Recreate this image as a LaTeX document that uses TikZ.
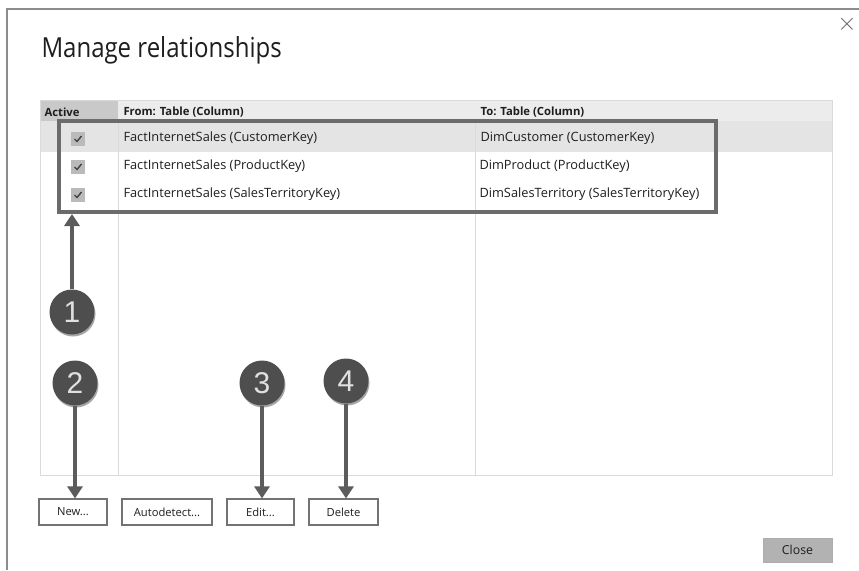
\documentclass[tikz,border=0pt]{standalone}
\usepackage{fontspec}
\setmainfont{Open Sans}
\newfontfamily\digitfont{Liberation Sans}
\usetikzlibrary{arrows.meta}
\usetikzlibrary{shadows}
\definecolor{frameline}{HTML}{8C8C8C}
\definecolor{gridline}{HTML}{DADADA}
\definecolor{headdark}{HTML}{C9C9C9}
\definecolor{headlight}{HTML}{ECECEC}
\definecolor{rowsel}{HTML}{E4E4E4}
\definecolor{callout}{HTML}{4E4E4E}
\definecolor{pointer}{HTML}{5C5C5C}
\definecolor{celltext}{HTML}{1E1E1E}
\tikzset{
every picture/.style={x=1pt, y=-1pt, line width=1pt},
%%%%%%%%%%  Node styles
celltext/.style={anchor=west, inner sep=0pt, text=celltext,
                 font=\fontsize{12.8}{14}\selectfont},
headtext/.style={anchor=west, inner sep=0pt, text=celltext,
                 font=\bfseries\fontsize{11.3}{13}\selectfont},
checkbox/.style={fill=black!27, minimum size=14pt, inner sep=0pt},
button/.style={draw=black!55, line width=1.2pt, fill=white, inner sep=0pt,
               minimum height=26pt, text=celltext,
               font=\fontsize{11.2}{13}\selectfont},
closebutton/.style={fill=black!30, draw=black!32, inner sep=0pt,
                    minimum width=69pt, minimum height=24pt, text=celltext,
                    font=\fontsize{12.3}{14}\selectfont},
numbered/.style={circle, fill=callout, minimum size=45pt, inner sep=0pt,
                 text=black!12, font=\digitfont\fontsize{30}{32}\selectfont,
                 drop shadow={shadow xshift=1pt, shadow yshift=-2pt,
                              opacity=0.35, fill=black}},
%%%% different line styles:
grid/.style={draw=gridline, line width=1pt},
selection/.style={draw=black!58, line width=4pt},
tick/.style={draw=black!75, line width=1.4pt},
pointer/.style={draw=pointer, line width=4pt,
                -{Triangle[length=12pt, width=15pt]}}
}

\begin{document}
\begin{tikzpicture}
\useasboundingbox (0,0) rectangle (859,570);
\fill[white] (0,0) rectangle (859,570);
% dialog frame
\draw[frameline, line width=1.5pt] (7,570) -- (7,9) -- (859,9);
\node[text=black!60, font=\fontsize{28}{28}\selectfont] (close x) at (847,24) {$\times$};
\node[anchor=base west, inner sep=0pt, text=celltext,
      font=\fontsize{24}{28}\selectfont] (title) at (41,57)
      {\scalebox{1}[1.15]{Manage relationships}};

%%%%%%% table
\fill[headdark] (40,100) rectangle (118,121);
\fill[headlight] (118,100) rectangle (832,121);
\fill[rowsel] (40,121) rectangle (832,152);
\draw[grid] (40,100) rectangle (832,475);
\draw[grid] (118,121) -- (118,475);
\draw[grid] (475,121) -- (475,475);
\node[headtext] (h active) at (44,112) {Active};
\node[headtext] (h from) at (123,112) {From: Table (Column)};
\node[headtext] (h to) at (480,112) {To: Table (Column)};

\node[checkbox] (cb1) at (78,139) {};
\node[checkbox] (cb2) at (78,167) {};
\node[checkbox] (cb3) at (78,195) {};
\draw[tick] (cb1.center) +(-3.5,0) -- +(-1,2.5) -- +(3.5,-3);
\draw[tick] (cb2.center) +(-3.5,0) -- +(-1,2.5) -- +(3.5,-3);
\draw[tick] (cb3.center) +(-3.5,0) -- +(-1,2.5) -- +(3.5,-3);

\node[celltext] (from1) at (123,138) {FactInternetSales (CustomerKey)};
\node[celltext] (from2) at (123,166) {FactInternetSales (ProductKey)};
\node[celltext] (from3) at (123,194) {FactInternetSales (SalesTerritoryKey)};
\node[celltext] (to1) at (480,138) {DimCustomer (CustomerKey)};
\node[celltext] (to2) at (479,166) {DimProduct (ProductKey)};
\node[celltext] (to3) at (479,194) {DimSalesTerritory (SalesTerritoryKey)};

\draw[selection] (59,121) rectangle (716,212);
\coordinate (sel bottom) at (72,214);

%%%%%%% buttons
\node[button, minimum width=68pt] (new) at (73,512) {New...};
\node[button, minimum width=90pt] (autodetect) at (167,512) {Autodetect...};
\node[button, minimum width=67pt] (edit) at (260.5,512) {Edit...};
\node[button, minimum width=69pt] (delete) at (343.5,512) {Delete};
\node[closebutton] (close) at (797.5,550) {Close};

%%%%%%% numbered callouts
\node[numbered] (n1) at (72,312) {1};
\node[numbered] (n2) at (75,383) {2};
\node[numbered] (n3) at (262,383) {3};
\node[numbered] (n4) at (346,381) {4};
\draw[pointer] (n1) -- (sel bottom);
\draw[pointer] (n2) -- (n2 |- new.north);
\draw[pointer] (n3) -- (n3 |- edit.north);
\draw[pointer] (n4) -- (n4 |- delete.north);
\end{tikzpicture}
\end{document}
